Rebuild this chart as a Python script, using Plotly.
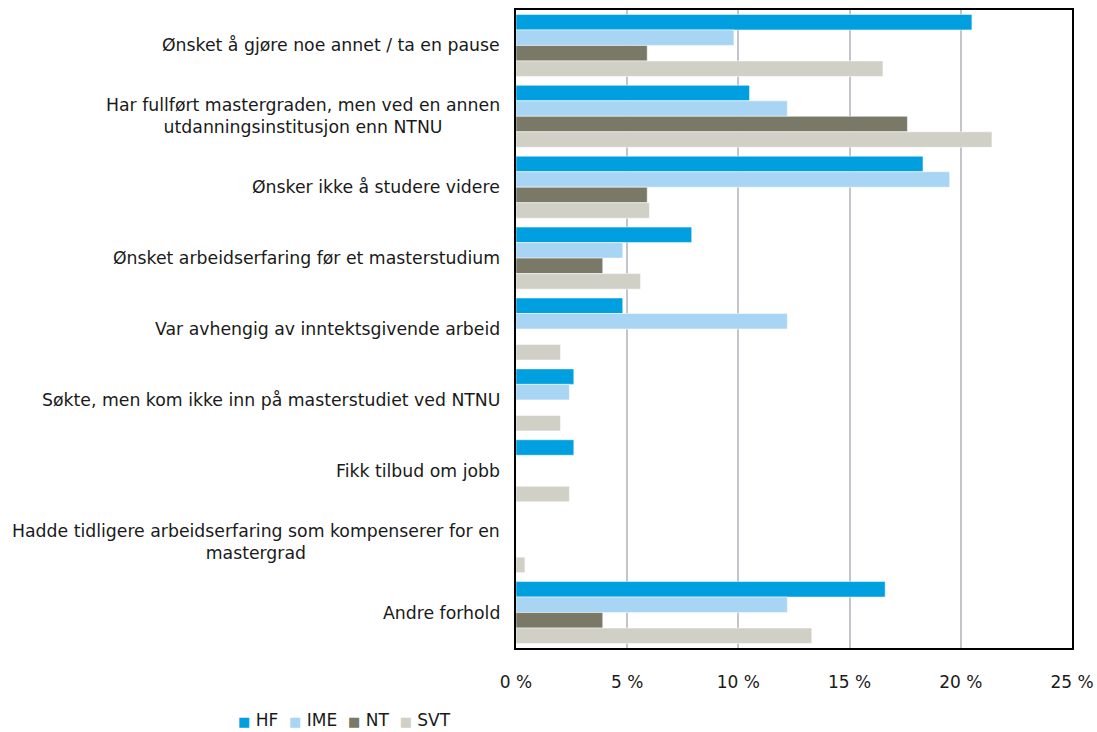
import plotly.graph_objects as go

# Reasons for not continuing to a master's degree, share of respondents per faculty
categories = [
    "Ønsket å gjøre noe annet / ta en pause",
    "Har fullført mastergraden, men ved en annen<br>utdanningsinstitusjon enn NTNU",
    "Ønsker ikke å studere videre",
    "Ønsket arbeidserfaring før et masterstudium",
    "Var avhengig av inntektsgivende arbeid",
    "Søkte, men kom ikke inn på masterstudiet ved NTNU",
    "Fikk tilbud om jobb",
    "Hadde tidligere arbeidserfaring som kompenserer for en<br>mastergrad",
    "Andre forhold",
]

hf = [20.5, 10.5, 18.3, 7.9, 4.8, 2.6, 2.6, 0.0, 16.6]
ime = [9.8, 12.2, 19.5, 4.8, 12.2, 2.4, 0.0, 0.0, 12.2]
nt = [5.9, 17.6, 5.9, 3.9, 0.0, 0.0, 0.0, 0.0, 3.9]
svt = [16.5, 21.4, 6.0, 5.6, 2.0, 2.0, 2.4, 0.4, 13.3]

series = [
    ("HF", hf, "#009fe0"),
    ("IME", ime, "#a9d5f5"),
    ("NT", nt, "#7a7967"),
    ("SVT", svt, "#d0d0c7"),
]

x_ticks = [0, 5, 10, 15, 20, 25]
x_tick_labels = ["0 %", "5 %", "10 %", "15 %", "20 %", "25 %"]

FONT = "DejaVu Sans"
TEXT = "#1a1a1a"
SIZE = 17.3

fig = go.Figure()
for name, vals, color in series:
    fig.add_trace(go.Bar(
        name=name,
        y=categories,
        x=vals,
        orientation="h",
        marker=dict(color=color, line=dict(color="rgba(255,255,255,0.5)", width=1)),
    ))

# Category labels as annotations so multi-line labels are centred line by line
for cat in categories:
    fig.add_annotation(
        x=0, xref="paper", xanchor="right", xshift=-14,
        y=cat, yref="y", yanchor="middle",
        text=cat, showarrow=False, align="center",
        font=dict(family=FONT, size=SIZE, color=TEXT),
    )

# Compact legend row: small coloured square followed by the series name
legend_parts = [
    f'<span style="color:{color};font-size:13px">■</span> {name}'
    for name, _, color in series
]
fig.add_annotation(
    x=-0.504, xref="paper", xanchor="left",
    y=-0.113, yref="paper", yanchor="middle",
    text="  ".join(legend_parts), showarrow=False, align="left",
    font=dict(family=FONT, size=17, color=TEXT),
)

fig.update_layout(
    width=1097, height=732,
    margin=dict(l=516, r=25, t=10, b=84),
    paper_bgcolor="white", plot_bgcolor="white",
    barmode="group", bargap=0.125, bargroupgap=0,
    font=dict(family=FONT, size=SIZE, color=TEXT),
    showlegend=False,
    xaxis=dict(
        range=[0, 25], tickvals=x_ticks, ticktext=x_tick_labels,
        showgrid=True, gridcolor="#c3c5ca", gridwidth=2,
        showline=True, linecolor="black", linewidth=2, mirror=True,
        zeroline=False, ticks="", ticklabelstandoff=18,
        tickfont=dict(family=FONT, size=17, color=TEXT),
        automargin=False,
    ),
    yaxis=dict(
        autorange="reversed", showticklabels=False,
        showline=True, linecolor="black", linewidth=2, mirror=True,
        showgrid=False, ticks="", automargin=False,
    ),
)

fig.write_html("out.html")
